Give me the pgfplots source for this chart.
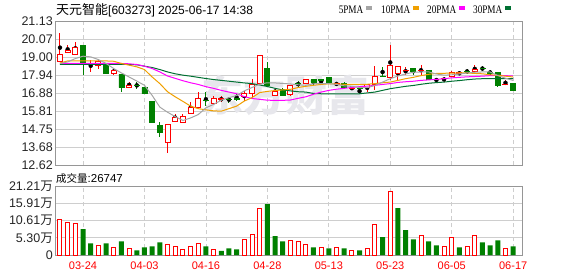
\documentclass[border=0pt]{standalone}
\usepackage{graphicx}
\usepackage{pgfplots}
\pgfplotsset{compat=1.18}
\usepackage{pgfplotstable}
\usepackage{fontspec}
\setmainfont{Liberation Sans}
\newfontfamily\serifl{Liberation Serif}
\newfontfamily\cjk{Noto Sans CJK SC}
\definecolor{kred}{RGB}{255,0,0}
\definecolor{kgreen}{RGB}{0,128,0}
\definecolor{ma5}{RGB}{165,165,165}
\definecolor{ma10}{RGB}{240,160,0}
\definecolor{ma20}{RGB}{255,0,255}
\definecolor{ma30}{RGB}{0,112,50}
\definecolor{gridc}{RGB}{206,206,206}
\definecolor{framec}{RGB}{150,150,150}
\definecolor{wmark}{RGB}{231,231,236}

\pgfplotstableread{
i o c h l
0 18.71 19.17 20.43 18.68
1 19.26 19.37 19.70 19.21
2 19.17 19.57 19.86 19.17
4 18.60 18.63 18.85 18.12
5 18.51 18.71 18.85 18.32
7 18.02 18.22 18.38 17.92
9 17.19 17.33 17.52 17.19
14 13.96 15.00 15.05 13.30
15 15.19 15.41 15.65 15.19
16 15.11 15.48 15.65 15.11
17 15.68 16.04 16.33 15.68
18 16.04 16.57 16.93 16.00
20 16.28 16.57 16.69 16.20
21 16.52 16.54 16.69 16.33
24 16.67 16.84 16.99 16.39
25 16.83 17.38 17.72 16.57
26 17.43 19.11 19.11 17.43
28 16.74 16.99 17.19 16.73
30 16.76 17.33 17.33 16.70
32 17.41 17.66 17.72 17.38
36 17.40 17.42 17.52 17.30
38 17.14 17.16 17.29 17.03
40 17.21 17.38 17.43 16.93
41 17.35 17.85 18.46 17.03
43 17.82 18.52 19.70 17.66
44 18.00 18.45 18.46 17.62
45 18.20 18.22 18.40 17.92
47 18.20 18.22 18.52 17.92
49 17.65 17.67 17.79 17.50
50 17.71 17.73 17.82 17.53
51 17.83 18.06 18.16 17.82
52 18.05 18.07 18.16 17.92
54 18.12 18.26 18.52 18.08
58 17.36 17.38 17.62 17.33
}\redtab

\pgfplotstableread{
i o c h l
3 19.70 18.62 19.72 17.96
6 18.57 18.02 18.60 17.98
8 17.98 17.19 17.98 16.93
10 17.35 17.33 17.52 17.13
11 17.19 16.83 17.19 16.80
12 16.39 15.15 16.39 15.15
13 14.95 14.55 15.15 14.25
19 16.45 16.43 16.93 16.08
22 16.50 16.48 16.66 16.30
23 16.54 16.52 16.83 16.40
27 18.35 17.33 18.71 17.33
29 17.10 16.71 17.19 16.69
31 17.45 17.43 17.60 17.20
33 17.66 17.50 17.72 17.33
34 17.65 17.63 17.68 17.45
35 17.80 17.50 17.80 17.39
37 17.43 17.21 17.52 17.13
39 17.14 17.12 17.14 16.83
42 17.88 17.86 18.40 17.83
46 18.32 18.18 18.37 17.96
48 18.22 17.68 18.25 17.65
53 18.17 18.15 18.32 17.98
55 18.33 18.31 18.46 18.18
56 18.07 18.05 18.26 17.92
57 18.08 17.30 18.10 17.24
59 17.43 17.03 17.43 16.97
}\greentab

\pgfplotstableread{
i m5 m10 m20 m30
0 18.62 18.65 18.62 18.56
1 18.71 18.77 18.62 18.56
2 18.91 18.77 18.62 18.56
3 19.05 18.77 18.62 18.56
4 19.01 18.77 18.62 18.56
5 18.85 18.77 18.62 18.56
6 18.62 18.77 18.62 18.56
7 18.32 18.75 18.62 18.56
8 18.06 18.62 18.62 18.56
9 17.82 18.52 18.60 18.56
10 17.58 18.42 18.56 18.54
11 17.33 18.26 18.46 18.46
12 16.73 17.82 18.32 18.38
13 16.04 17.43 18.12 18.26
14 15.74 16.95 17.88 18.12
15 15.48 16.65 17.74 18.01
16 15.25 16.38 17.60 17.93
17 15.40 16.10 17.48 17.87
18 15.60 15.95 17.38 17.80
19 16.00 15.88 17.25 17.73
20 16.20 15.82 17.15 17.67
21 16.45 15.80 17.03 17.62
22 16.60 15.95 16.93 17.57
23 16.73 16.10 16.83 17.52
24 17.00 16.40 16.66 17.47
25 17.20 16.60 16.55 17.43
26 17.40 16.90 16.50 17.35
27 17.48 16.97 16.45 17.26
28 17.47 17.02 16.44 17.15
29 17.44 17.06 16.44 17.06
30 17.41 17.09 16.46 17.00
31 17.36 17.20 16.56 16.95
32 17.33 17.27 16.65 16.93
33 17.42 17.33 16.80 16.85
34 17.43 17.38 16.93 16.83
35 17.43 17.42 17.03 16.83
36 17.38 17.41 17.10 16.83
37 17.30 17.39 17.15 16.83
38 17.27 17.39 17.20 16.83
39 17.20 17.39 17.25 16.83
40 17.19 17.39 17.28 16.88
41 17.32 17.43 17.33 16.93
42 17.52 17.48 17.38 17.03
43 17.72 17.52 17.43 17.13
44 17.88 17.62 17.50 17.20
45 18.00 17.72 17.54 17.27
46 18.10 17.80 17.57 17.32
47 18.12 17.90 17.62 17.39
48 18.12 17.98 17.65 17.45
49 18.00 18.03 17.68 17.49
50 17.93 18.04 17.72 17.52
51 17.95 18.05 17.77 17.57
52 18.00 18.06 17.80 17.61
53 18.06 18.06 17.83 17.66
54 18.10 18.03 17.85 17.70
55 18.12 18.01 17.87 17.72
56 18.12 17.95 17.90 17.72
57 17.90 17.92 17.92 17.72
58 17.75 17.87 17.90 17.72
59 17.62 17.82 17.88 17.72
}\matab

\pgfplotstableread{
i v
0 10.90
1 9.99
2 9.68
5 2.88
7 2.27
9 1.96
14 3.19
15 2.68
16 1.75
17 2.57
18 3.50
20 1.65
24 4.74
25 6.38
26 14.31
30 4.53
31 4.22
32 3.19
34 2.27
36 2.27
38 1.34
40 1.96
41 9.37
43 19.56
47 5.97
50 2.57
51 5.35
53 2.57
54 5.97
58 1.96
}\vredtab

\pgfplotstableread{
i v
3 7.93
4 3.60
6 3.60
8 4.22
10 1.44
11 2.37
12 2.68
13 3.91
19 2.68
21 1.24
22 2.06
23 1.75
27 15.65
28 5.77
29 4.22
33 2.37
35 2.06
37 2.06
39 1.44
42 5.46
44 14.41
45 7.62
46 4.84
48 4.22
49 2.99
52 2.37
55 3.91
56 2.99
57 4.53
59 2.67
}\vgreentab

\pgfplotsset{
  pbox/.style={at={(55pt,-21pt)}, anchor=north west, scale only axis,
    width=467pt, height=144pt, xmin=-0.65, xmax=60.15, ymin=12.62, ymax=21.13},
  vbox/.style={at={(55pt,-186pt)}, anchor=north west, scale only axis,
    width=467pt, height=69pt, xmin=-0.65, xmax=60.15, ymin=0, ymax=21.21},
  ov/.style={hide axis},
  framed/.style={axis line style={framec, line width=0.9pt}, major tick length=0pt,
    xmajorgrids, ymajorgrids,
    x grid style={gridc, dash pattern=on 4pt off 3pt, line width=0.8pt},
    y grid style={gridc, line width=0.8pt},
    yticklabel style={font=\fontsize{12.5}{12.5}\selectfont, text=black!85, inner sep=0pt, xshift=-2pt, anchor=east},
    xtick={3,11,19,27,35,43,51,59}},
}
\newcommand\legtext[1]{\scalebox{0.8}[1]{\serifl\fontsize{11.5}{11.5}\selectfont #1}}

\begin{document}
\begin{tikzpicture}
\useasboundingbox (0,0) rectangle (578pt,-276pt);

% ---------- price panel: frame, grid, watermark
\begin{axis}[pbox, framed, xticklabels={},
  ytick={12.62,13.68375,14.7475,15.81125,16.875,17.93875,19.0025,20.06625,21.13},
  yticklabels={12.62,13.68,14.75,15.81,16.88,17.94,19.00,20.07,21.13}]
\node[text=wmark, font=\cjk\bfseries\fontsize{42}{42}\selectfont] at (axis cs:29.4,16.72) {东方财富};
\end{axis}

% ---------- wicks
\begin{axis}[pbox, ov]
\addplot[only marks, mark=none, error bars/.cd, y dir=both, y explicit, error mark=none,
  error bar style={kred, line width=1pt}]
  table[x=i, y expr={(\thisrow{h}+\thisrow{l})/2}, y error expr={(\thisrow{h}-\thisrow{l})/2}] {\redtab};
\addplot[only marks, mark=none, error bars/.cd, y dir=both, y explicit, error mark=none,
  error bar style={kgreen, line width=1pt}]
  table[x=i, y expr={(\thisrow{h}+\thisrow{l})/2}, y error expr={(\thisrow{h}-\thisrow{l})/2}] {\greentab};
\end{axis}

% ---------- red (rising) bodies
\begin{axis}[pbox, ov, ybar stacked, bar width=5pt]
\addplot[draw=none, fill=none] table[x=i, y=o] {\redtab};
\addplot[draw=kred, fill=white, line width=1pt] table[x=i, y expr={\thisrow{c}-\thisrow{o}}] {\redtab};
\end{axis}

% ---------- green (falling) bodies
\begin{axis}[pbox, ov, ybar stacked, bar width=5pt]
\addplot[draw=none, fill=none] table[x=i, y=c] {\greentab};
\addplot[draw=kgreen, fill=kgreen, line width=0.8pt] table[x=i, y expr={\thisrow{o}-\thisrow{c}}] {\greentab};
\end{axis}

% ---------- moving averages
\begin{axis}[pbox, ov]
\addplot[ma30, line width=1pt, mark=none] table[x=i, y=m30] {\matab};
\addplot[ma20, line width=1pt, mark=none] table[x=i, y=m20] {\matab};
\addplot[ma10, line width=1pt, mark=none] table[x=i, y=m10] {\matab};
\addplot[ma5, line width=1pt, mark=none] table[x=i, y=m5] {\matab};
\end{axis}

% ---------- volume panel
\begin{axis}[vbox, framed, ybar, bar shift=0pt,
  ytick={0,5.3025,10.605,15.9075,21.21},
  yticklabels={0,{5.30{\cjk 万}},{10.61{\cjk 万}},{15.91{\cjk 万}},{21.21{\cjk 万}}},
  xticklabels={03-24,04-03,04-16,04-28,05-13,05-23,06-05,06-17},
  xticklabel style={font=\fontsize{11}{11}\selectfont, text=kred, inner sep=0pt, anchor=north, yshift=-7pt}]
\addplot[bar width=4pt, draw=kred, fill=white, line width=1pt] table[x=i, y=v] {\vredtab};
\addplot[bar width=5pt, draw=none, fill=kgreen] table[x=i, y=v] {\vgreentab};
\end{axis}

% ---------- titles and legend
\node[anchor=base west, inner sep=0pt] at (56pt,-14pt)
  {{\cjk\fontsize{13}{13}\selectfont 天元智能}\fontsize{12}{12}\selectfont[603273] 2025-06-17 14:38};
\node[anchor=base west, inner sep=0pt] at (56pt,-182.5pt)
  {{\cjk\fontsize{10.5}{10.5}\selectfont 成交量}\fontsize{11.5}{11.5}\selectfont:26747};

\node[anchor=base east, inner sep=0pt] at (363.5pt,-13.5pt) {\legtext{5PMA}};
\fill[ma5] (366pt,-6pt) rectangle (372pt,-9.5pt);
\node[anchor=base east, inner sep=0pt] at (410.5pt,-13.5pt) {\legtext{10PMA}};
\fill[ma10] (413pt,-6pt) rectangle (419pt,-9.5pt);
\node[anchor=base east, inner sep=0pt] at (456.5pt,-13.5pt) {\legtext{20PMA}};
\fill[ma20] (459pt,-6pt) rectangle (465pt,-9.5pt);
\node[anchor=base east, inner sep=0pt] at (502.5pt,-13.5pt) {\legtext{30PMA}};
\fill[ma30] (505pt,-6pt) rectangle (511pt,-9.5pt);
\end{tikzpicture}
\end{document}
